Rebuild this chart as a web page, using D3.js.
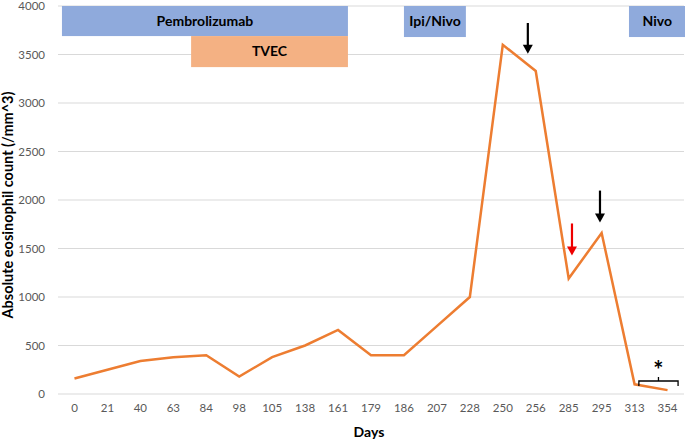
<!DOCTYPE html>
<html><head><meta charset="utf-8">
<script src="https://cdn.jsdelivr.net/npm/d3@7"></script>
<style>body{margin:0;background:#fff}svg{display:block}</style>
</head><body><svg id="c" width="685" height="440"></svg>
<script>
const days = ["0","21","40","63","84","98","105","138","161","179","186","207","228","250","256","285","295","313","354"];
const eos = [160,250,340,380,400,180,380,500,660,400,400,700,1000,3600,3330,1190,1660,100,40];
const yTicks = [0,500,1000,1500,2000,2500,3000,3500,4000];
// treatment bars: name, start/end in category-index units, top/bottom values
const trtNames = ["Pembrolizumab","TVEC","Ipi/Nivo","Nivo"];
const trtStart = [0.12,4.04,10.5,17.33];
const trtEnd   = [8.8,8.8,12.38,19.05];
const trtTop   = [4000,3690,4000,4000];
const trtBot   = [3690,3370,3680,3680];
const trtColor = ["#8faadc","#f4b183","#8faadc","#8faadc"];
// arrows: category-index x, top value, tip value, colour
const arrowX = [14.26,16.45,15.6];
const arrowTop = [3825,2097,1758];
const arrowTip = [3507,1768,1429];
const arrowCol = ["#000","#000","#e00"];

const svg = d3.select("#c");
const L=58, R=684, T=6, B=394;
const x = d3.scaleBand().domain(days).range([L,R]).padding(0);
const xi = d3.scaleLinear().domain([0,days.length]).range([L,R]);
const y = d3.scaleLinear().domain([0,4000]).range([B,T]);
const font = "Lato, 'Open Sans', sans-serif";

// gridlines
svg.append("g").selectAll("line").data(yTicks).join("line")
  .attr("x1",L).attr("x2",R).attr("y1",d=>y(d)).attr("y2",d=>y(d))
  .attr("stroke","#d9d9d9").attr("stroke-width",1);

// y axis
const ya = svg.append("g").attr("transform",`translate(${L},0)`)
  .call(d3.axisLeft(y).tickValues(yTicks).tickFormat(d3.format("d")).tickSize(0).tickPadding(13));
ya.select(".domain").remove();
ya.selectAll("text").attr("font-family",font).attr("font-size",11.5).attr("fill","#595959");

// x axis
const xa = svg.append("g").attr("transform",`translate(0,${B})`)
  .call(d3.axisBottom(x).tickSize(0).tickPadding(10));
xa.select(".domain").remove();
xa.selectAll("text").attr("font-family",font).attr("font-size",11.5).attr("fill","#595959");

// treatment bars
const tg = svg.append("g");
trtNames.forEach((n,i)=>{
  tg.append("rect").attr("x",xi(trtStart[i])).attr("width",xi(trtEnd[i])-xi(trtStart[i]))
    .attr("y",y(trtTop[i])).attr("height",y(trtBot[i])-y(trtTop[i])).attr("fill",trtColor[i]);
  tg.append("text").attr("x",(xi(trtStart[i])+xi(trtEnd[i]))/2)
    .attr("y",(y(trtTop[i])+y(trtBot[i]))/2).attr("dy","0.35em").attr("text-anchor","middle")
    .attr("font-family",font).attr("font-weight","bold").attr("font-size",14).attr("fill","#000").text(n);
});

// line
svg.append("path").datum(eos)
  .attr("d",d3.line().x((d,i)=>x(days[i])+x.bandwidth()/2).y(d=>y(d)))
  .attr("fill","none").attr("stroke","#ed7d31").attr("stroke-width",2.5).attr("stroke-linejoin","miter");

// arrows
arrowX.forEach((ax,i)=>{
  const px=xi(ax), y0=y(arrowTop[i]), y1=y(arrowTip[i]);
  svg.append("line").attr("x1",px).attr("x2",px).attr("y1",y0).attr("y2",y1-7)
    .attr("stroke",arrowCol[i]).attr("stroke-width",2.2);
  svg.append("path").attr("d",`M${px-5},${y1-9}L${px+5},${y1-9}L${px},${y1}Z`).attr("fill",arrowCol[i]);
});

// bracket with asterisk
const bx0=xi(17.63), bx1=xi(18.82), by=y(134), byEnd=y(82), byTick=y(175), bxm=(bx0+bx1)/2;
svg.append("path").attr("d",`M${bx0},${byEnd}V${by}H${bx1}V${byEnd}M${bxm},${by}V${byTick}`)
  .attr("fill","none").attr("stroke","#000").attr("stroke-width",1.3);
svg.append("text").attr("x",bxm).attr("y",y(329)).attr("dy","0.7em").attr("text-anchor","middle")
  .attr("font-family",font).attr("font-weight","bold").attr("font-size",24).text("*");

// axis titles
svg.append("text").attr("x",369).attr("y",437).attr("text-anchor","middle")
  .attr("font-family",font).attr("font-weight","bold").attr("font-size",14).text("Days");
svg.append("text").attr("transform","translate(13,205) rotate(-90)").attr("text-anchor","middle")
  .attr("font-family",font).attr("font-weight","bold").attr("font-size",14.5).text("Absolute eosinophil count (/mm^3)");
</script></body></html>
